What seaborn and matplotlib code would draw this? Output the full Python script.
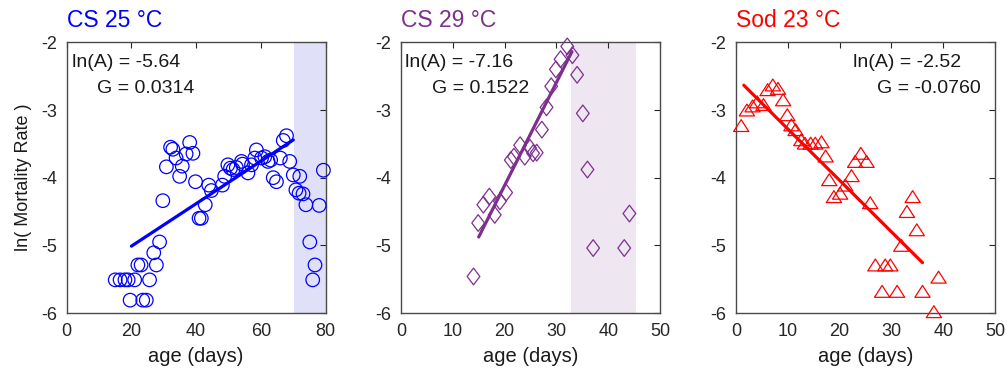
import numpy as np
import matplotlib
matplotlib.use('Agg')
import matplotlib.pyplot as plt
from matplotlib.path import Path
import seaborn as sns

# ---- data ----
# CS 25 °C
cs25_age = [15, 16.5, 18, 19, 21, 19.6, 23.5, 24.6, 22, 23, 25.6, 27.7, 26.9, 28.7, 29.7,
            30.8, 32.1, 32.8, 33.8, 35.7, 34.9, 36.9, 38, 39, 39.8, 40.9, 41.6, 42.8, 43.9,
            44.7, 48.1, 48.8, 49.8, 50.6, 51.4, 52.4, 54, 54.3, 56, 57.1, 58.1, 58.6, 60.2,
            61.2, 62.2, 63, 63.8, 64.8, 66, 66.9, 67.9, 68.9, 70, 72, 70.8, 71.8, 73, 73.9,
            75.1, 76.7, 76, 78, 79.3]
cs25_lnm = [-5.51, -5.51, -5.51, -5.51, -5.51, -5.81, -5.81, -5.81, -5.29, -5.29, -5.51,
            -5.29, -5.11, -4.95, -4.34, -3.84, -3.55, -3.58, -3.71, -3.83, -3.98, -3.65,
            -3.48, -3.64, -4.06, -4.6, -4.6, -4.40, -4.11, -4.19, -4.11, -3.98, -3.81,
            -3.86, -3.88, -3.85, -3.76, -3.80, -3.93, -3.81, -3.71, -3.59, -3.71, -3.69,
            -3.76, -3.74, -4.0, -4.06, -3.71, -3.45, -3.38, -3.76, -3.96, -3.98, -4.18,
            -4.23, -4.24, -4.40, -4.95, -5.29, -5.51, -4.41, -3.89]
cs25_lnA, cs25_G = -5.64, 0.0314
cs25_fit_age = [20, 70]
cs25_shade = [70.3, 80]

# CS 29 °C
cs29_age = [14, 14.9, 15.9, 17.05, 18.1, 19.1, 20.3, 21.2, 21.8, 23.0, 23.9, 24.9, 25.5,
            26.2, 27.2, 28.1, 29.0, 29.9, 30.8, 32.1, 33.1, 34.0, 35.1, 36.0, 37.1, 43.1, 44.1]
cs29_lnm = [-5.46, -4.67, -4.40, -4.28, -4.55, -4.35, -4.22, -3.74, -3.69, -3.52, -3.69,
            -3.56, -3.64, -3.63, -3.29, -2.96, -2.65, -2.40, -2.25, -2.06, -2.19, -2.48,
            -3.05, -3.88, -5.04, -5.04, -4.53]
cs29_lnA, cs29_G = -7.16, 0.1522
cs29_fit_age = [15, 33]
cs29_shade = [32.8, 45.4]

# Sod 23 °C
sod23_age = [1.0, 2.1, 3.2, 4.1, 5.3, 6.1, 7.1, 8.1, 9.1, 9.9, 10.7, 11.5, 12.6, 13.3, 14.4,
             15.3, 16.5, 17.3, 18.0, 18.9, 20.1, 21.1, 22.3, 23.0, 24.1, 25.2, 25.9, 26.9,
             28.2, 28.8, 29.8, 31.1, 31.9, 33.0, 34.1, 34.9, 36.0, 38.2, 39.1]
sod23_lnm = [-3.23, -3.0, -2.94, -2.88, -2.92, -2.70, -2.63, -2.68, -2.85, -3.07, -3.22,
             -3.29, -3.44, -3.49, -3.49, -3.49, -3.47, -3.68, -4.03, -4.28, -4.23, -4.11,
             -3.97, -3.76, -3.64, -3.76, -4.37, -5.29, -5.68, -5.29, -5.29, -5.68, -5.0,
             -4.5, -4.28, -4.77, -5.68, -5.98, -5.47]
sod23_lnA, sod23_G = -2.52, -0.0760
sod23_fit_age = [1.5, 36]

titles = ['CS 25 °C', 'CS 29 °C', 'Sod 23 °C']
colors = ['#0000ff', '#7e2f8e', '#ff0000']
shade_colors = ['#e0e0f8', '#eee6f1']

# ---- style ----
sns.set_style('white')
plt.rcParams['font.family'] = ['Liberation Sans', 'DejaVu Sans']
plt.rcParams['axes.unicode_minus'] = False

diamond = Path([(0, 1), (0.76, 0), (0, -1), (-0.76, 0), (0, 1)],
               [Path.MOVETO, Path.LINETO, Path.LINETO, Path.LINETO, Path.CLOSEPOLY])
triangle = Path([(-1, -0.78), (1, -0.78), (0, 0.78), (-1, -0.78)],
                [Path.MOVETO, Path.LINETO, Path.LINETO, Path.CLOSEPOLY])

panels = [
    dict(age=cs25_age, lnm=cs25_lnm, lnA=cs25_lnA, G=cs25_G, fit=cs25_fit_age,
         shade=cs25_shade, marker='o', ms=95, xmax=80, xticks=[0, 20, 40, 60, 80],
         txt=(0.019, 0.116)),
    dict(age=cs29_age, lnm=cs29_lnm, lnA=cs29_lnA, G=cs29_G, fit=cs29_fit_age,
         shade=cs29_shade, marker=diamond, ms=145, xmax=50, xticks=[0, 10, 20, 30, 40, 50],
         txt=(0.015, 0.119)),
    dict(age=sod23_age, lnm=sod23_lnm, lnA=sod23_lnA, G=sod23_G, fit=sod23_fit_age,
         shade=None, marker=triangle, ms=120, xmax=50, xticks=[0, 10, 20, 30, 40, 50],
         txt=(0.452, 0.544)),
]

fig = plt.figure(figsize=(10.07, 3.71), dpi=100)
lefts = [0.0662, 0.3982, 0.7309]

for i, p in enumerate(panels):
    ax = fig.add_axes([lefts[i], 0.1563, 0.2572, 0.7296])
    c = colors[i]
    if p['shade'] is not None:
        ax.axvspan(p['shade'][0], p['shade'][1], color=shade_colors[i], lw=0, zorder=0)
    sns.scatterplot(x=p['age'], y=p['lnm'], ax=ax, marker=p['marker'], s=p['ms'],
                    color=c, facecolor='none', edgecolor=c, linewidth=0.9,
                    clip_on=False, zorder=3)
    fx = np.array(p['fit'], dtype=float)
    sns.lineplot(x=fx, y=p['lnA'] + p['G'] * fx, ax=ax, color=c, linewidth=2.3, zorder=4)

    ax.set_xlim(0, p['xmax'])
    ax.set_ylim(-6, -2)
    ax.set_xticks(p['xticks'])
    ax.set_yticks([-6, -5, -4, -3, -2])
    ax.tick_params(direction='in', length=4, width=0.8, top=True, right=True,
                   labelsize=13, pad=7, colors='#262626')
    for sp in ax.spines.values():
        sp.set_visible(True)
        sp.set_color('#4a4a4a')
        sp.set_linewidth(1.0)
    ax.set_xlabel('age (days)', fontsize=14.5, color='#1a1a1a')
    ax.xaxis.set_label_coords(0.5, -0.125)
    ax.set_title(titles[i], loc='left', color=c, fontsize=16.5, pad=11)

    x1, x2 = p['txt']
    ax.text(x1, 0.909, f"ln(A) = {p['lnA']:.2f}", transform=ax.transAxes,
            ha='left', va='baseline', fontsize=14, color='#1a1a1a')
    ax.text(x2, 0.813, f"G = {p['G']:.4f}", transform=ax.transAxes,
            ha='left', va='baseline', fontsize=14, color='#1a1a1a')
    if i == 0:
        ax.set_ylabel('ln( Mortality Rate )', fontsize=13, color='#1a1a1a')
        ax.yaxis.set_label_coords(-0.134, 0.5)

fig.savefig('out.png', dpi=100)
